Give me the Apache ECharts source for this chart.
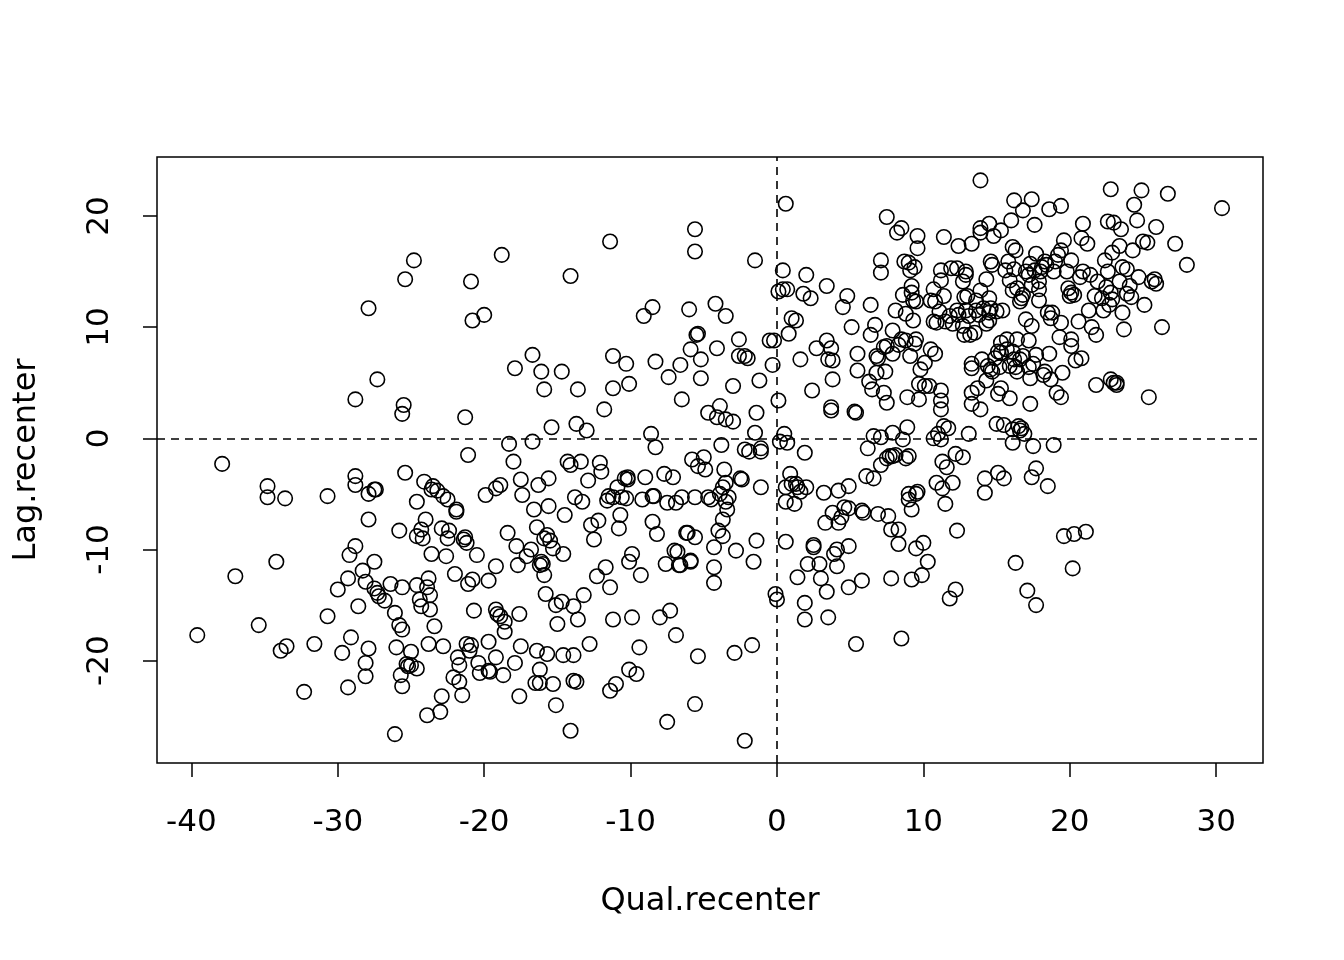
<!DOCTYPE html>
<html>
<head>
<meta charset="utf-8">
<script src="https://cdn.jsdelivr.net/npm/echarts@6/dist/echarts.min.js"></script>
<style>
html,body{margin:0;padding:0;background:#fff;}
#chart{width:1344px;height:960px;}
</style>
</head>
<body>
<div id="chart"></div>
<script>
// Tick labels
const xTicks = [-40, -30, -20, -10, 0, 10, 20, 30];
const yTicks = [-20, -10, 0, 10, 20];
const xTitle = 'Qual.recenter';
const yTitle = 'Lag.recenter';

// Points [Qual.recenter, Lag.recenter]
const pointsFarLeft = [
[-39.6,-17.7],[-37.9,-2.3],[-37.0,-12.4],[-35.4,-16.8],[-34.8,-4.3],[-34.8,-5.3],[-34.2,-11.1],[-33.9,-19.1],
[-33.6,-5.4],[-33.5,-18.7],[-32.3,-22.8],[-31.6,-18.5],[-30.7,-16.0],[-30.7,-5.2],[-30.0,-13.6]
];
const pointsM30 = [
[-29.7,-19.3],[-29.3,-12.6],[-29.2,-10.5],[-29.3,-22.4],[-29.1,-17.9],[-28.8,3.5],[-28.8,-9.7],[-28.8,-3.4],
[-28.8,-4.2],[-28.6,-15.1],[-28.3,-11.9],[-28.1,-20.2],[-28.1,-12.9],[-28.1,-21.4],[-27.9,11.7],[-27.9,-18.9],
[-27.9,-7.3],[-27.9,-5.0],[-27.5,-4.6],[-27.5,-11.1],[-27.3,5.3],[-27.4,-4.6],[-27.5,-13.5],[-27.3,-13.9],
[-27.2,-14.2],[-26.8,-14.6],[-26.4,-13.1],[-26.1,-15.7],[-26.1,-26.6],[-26.0,-18.8],[-25.8,-16.8],[-25.8,-8.3],
[-25.7,-21.3],[-25.6,-13.4],[-25.5,3.0],[-25.6,2.2],[-25.4,14.3],[-25.4,-3.1],[-25.6,-22.3],[-25.6,-17.2],
[-25.3,-20.3],[-25.2,-20.5],[-25.0,-19.2],[-25.0,-20.4],[-24.8,16.0],[-24.6,-20.7],[-24.6,-5.7],[-24.6,-13.2],
[-24.6,-8.8],[-24.4,-14.5],[-24.3,-15.1],[-24.3,-8.2],[-24.2,-9.0],[-24.0,-7.3],[-24.1,-3.9],[-23.9,-24.9],
[-23.9,-13.4],[-23.8,-12.6],[-23.7,-14.1],[-23.8,-18.5],[-23.7,-15.4],[-23.6,-10.4],[-23.6,-4.6],[-23.5,-4.3],
[-23.4,-16.9],[-23.2,-4.7],[-23.0,-24.6],[-22.9,-23.2],[-22.9,-8.1],[-22.8,-18.7],[-22.8,-5.2],[-22.6,-10.6],
[-22.5,-9.0],[-22.4,-8.3],[-22.5,-5.5],[-22.1,-21.5],[-22.0,-12.2],[-21.9,-6.4],[-21.9,-6.6],[-21.8,-19.7],
[-21.7,-21.9],[-21.7,-20.4],[-21.5,-23.1],[-21.4,-9.1],[-21.3,1.9],[-21.3,-8.9],[-21.2,-18.5],[-21.2,-9.4],
[-21.1,-13.1],[-21.1,-1.5],[-21.0,-19.1],[-20.9,14.1],[-20.9,-18.6],[-20.8,10.6],[-20.8,-12.7],[-20.7,-15.5],
[-20.5,-10.5],[-20.4,-20.2],[-20.3,-21.1],[-20.0,11.1],[-19.9,-5.1]
];
const pointsM20 = [
[-19.7,-12.8],[-19.7,-18.3],[-19.7,-20.9],[-19.6,-21.0],[-19.2,-4.5],[-19.2,-11.5],[-19.2,-15.4],[-19.2,-19.7],
[-19.1,-15.8],[-18.9,-16.0],[-18.9,-4.2],[-18.8,16.5],[-18.7,-21.3],[-18.6,-17.4],[-18.6,-16.5],[-18.4,-8.5],
[-18.3,-0.5],[-18.0,-2.1],[-17.9,6.3],[-17.9,-20.2],[-17.8,-9.7],[-17.7,-11.4],[-17.6,-23.2],[-17.6,-15.8],
[-17.5,-18.7],[-17.5,-3.7],[-17.4,-5.1],[-17.1,-10.6],[-16.8,-10.0],[-16.7,-0.3],[-16.7,7.5],[-16.6,-6.4],
[-16.5,-22.0],[-16.4,-8.0],[-16.4,-19.1],[-16.3,-4.2],[-16.2,-11.4],[-16.2,-22.0],[-16.2,-20.8],[-16.1,-11.1],
[-16.1,6.0],[-16.0,-11.3],[-15.9,4.4],[-15.9,-12.3],[-15.9,-9.0],[-15.8,-14.0],[-15.7,-8.7],[-15.7,-19.4],
[-15.6,-6.1],[-15.6,-3.6],[-15.5,-9.2],[-15.4,1.0],[-15.3,-9.9],[-15.3,-22.1],[-15.1,-24.0],[-15.1,-15.0],
[-15.0,-16.7],[-14.7,6.0],[-14.7,-14.7],[-14.6,-19.5],[-14.6,-10.4],[-14.5,-6.9],[-14.3,-2.1],[-14.1,-2.4],
[-14.1,14.6],[-14.1,-26.3],[-13.9,-15.1],[-13.9,-19.5],[-13.9,-21.8],[-13.8,-5.3],[-13.7,-21.9],[-13.7,1.3],
[-13.6,4.4],[-13.6,-16.3],[-13.4,-2.1],[-13.3,-5.7],[-13.2,-14.1],[-13.0,0.7],[-12.9,-3.8],[-12.8,-18.5],
[-12.7,-7.8],[-12.5,-9.1],[-12.3,-12.4],[-12.2,-7.4],[-12.1,-2.2],[-12.0,-3.0],[-11.8,2.6],[-11.7,-11.6],
[-11.6,-5.6],[-11.5,-5.2],[-11.4,-13.4],[-11.4,-22.7],[-11.4,17.7],[-11.2,7.4],[-11.2,-5.3],[-11.2,4.5],
[-11.2,-16.3],[-11.0,-22.1],[-10.9,-4.4],[-10.8,-8.1],[-10.7,-6.9],[-10.6,-5.3],[-10.4,-3.6],[-10.3,6.7],
[-10.3,-5.4],[-10.2,-3.5],[-10.2,-3.7],[-10.1,4.9],[-10.1,-20.8],[-10.1,-11.1],[-9.9,-16.1],[-9.9,-10.4]
];
const pointsM10 = [
[-9.6,-21.2],[-9.4,-18.8],[-9.3,-12.3],[-9.2,-5.5],[-9.1,11.0],[-9.0,-3.5],[-8.6,0.4],[-8.5,-5.2],
[-8.5,-7.5],[-8.5,11.8],[-8.4,-5.2],[-8.3,6.9],[-8.3,-0.8],[-8.2,-8.6],[-8.0,-16.1],[-7.7,-3.2],
[-7.6,-11.3],[-7.5,-5.8],[-7.5,-25.5],[-7.4,5.5],[-7.3,-15.5],[-7.1,-3.5],[-7.0,-10.1],[-6.9,-5.8],
[-6.9,-17.7],[-6.8,-10.2],[-6.7,-11.4],[-6.6,-11.4],[-6.6,6.6],[-6.5,3.5],[-6.5,-5.3],[-6.2,-8.5],
[-6.1,-8.5],[-6.0,11.6],[-5.9,-11.0],[-5.9,-11.1],[-5.9,8.0],[-5.8,-1.9],[-5.6,18.8],[-5.6,16.8],
[-5.6,-5.3],[-5.6,-8.9],[-5.6,-23.9],[-5.5,9.3],[-5.4,-2.5],[-5.4,9.4],[-5.4,-19.6],[-5.2,7.1],
[-5.2,5.4],[-5.0,-1.7],[-4.9,-2.8],[-4.7,2.3],[-4.7,-5.3],[-4.5,-5.5],[-4.3,-13.0],[-4.3,-11.6],
[-4.3,-9.8],[-4.2,12.1],[-4.1,1.9],[-4.1,8.1],[-4.0,-8.3],[-3.9,-5.0],[-3.9,2.9],[-3.8,-0.6],
[-3.7,-4.4],[-3.7,-8.8],[-3.7,-7.3],[-3.6,-2.8],[-3.5,11.0],[-3.5,-4.0],[-3.5,-5.7],[-3.5,1.7],
[-3.4,-6.4],[-3.3,-5.3],[-3.0,4.7],[-3.0,1.5],[-2.9,-19.3],[-2.8,-10.1],[-2.6,8.9],[-2.6,7.4],
[-2.5,-3.6],[-2.4,-3.7],[-2.2,7.4],[-2.2,-1.0],[-2.2,-27.2],[-2.0,7.2],[-1.9,-1.2],[-1.7,-18.6],
[-1.6,-11.1],[-1.5,16.0],[-1.5,0.5],[-1.4,2.3],[-1.4,-9.2],[-1.2,5.2],[-1.1,-0.9],[-1.1,-1.2],
[-1.1,-4.4],[-0.5,8.8],[-0.3,6.6],[-0.2,8.8]
];
const pointsP0 = [
[-0.1,-14.0],[0.0,-14.5],[0.1,3.4],[0.1,13.2],[0.2,-0.3],[0.4,15.1],[0.5,0.4],[0.4,13.4],
[0.6,21.1],[0.6,-5.7],[0.7,-0.4],[0.6,-9.3],[0.7,13.4],[0.6,-4.4],[0.8,9.4],[0.9,-3.2],
[1.0,-4.1],[1.0,10.8],[1.2,-5.9],[1.3,-4.1],[1.3,10.6],[1.4,-4.4],[1.4,-12.5],[1.6,-4.8],
[1.6,7.1],[1.8,13.0],[1.9,-1.3],[1.9,-16.3],[1.9,-14.8],[2.0,-4.4],[2.0,14.7],[2.1,-11.3],
[2.3,12.6],[2.4,4.3],[2.5,-9.8],[2.5,-9.6],[2.7,8.1],[2.9,-11.3],[3.0,-12.6],[3.2,-4.9],
[3.3,-7.6],[3.4,8.8],[3.4,13.7],[3.4,-13.8],[3.5,-16.1],[3.5,7.1],[3.7,2.8],[3.7,8.1],
[3.7,2.5],[3.8,7.0],[3.8,5.3],[3.8,-6.7],[3.9,-10.4],[4.1,-11.5],[4.1,-10.0],[4.2,-7.6],
[4.2,-4.7],[4.4,-7.1],[4.5,11.8],[4.6,-6.2],[4.8,12.8],[4.9,-13.4],[4.9,-6.3],[4.9,-4.3],
[4.9,-9.7],[5.1,10.0],[5.3,2.4],[5.4,-18.5],[5.4,2.3],[5.5,6.1],[5.5,7.6],[5.8,-6.5],
[5.8,-12.8],[5.9,-6.7],[6.1,-3.4],[6.2,-0.9],[6.3,5.1],[6.4,12.0],[6.4,9.3],[6.5,4.4],
[6.6,-3.6],[6.6,0.2],[6.7,10.2],[6.8,5.9],[6.8,7.4],[6.9,-6.8],[6.9,7.2],[7.1,0.1],
[7.1,-2.4],[7.1,16.0],[7.1,14.9],[7.3,4.1],[7.3,8.2],[7.4,6.0],[7.5,3.2],[7.5,19.9],
[7.5,-1.8],[7.5,8.3],[7.6,-7.0],[7.7,-1.6],[7.8,-12.6],[7.8,-8.2],[7.9,9.7],[7.9,7.6],
[7.9,0.5],[7.9,-1.6],[8.1,11.5],[8.1,-1.5],[8.2,18.5],[8.3,8.4],[8.3,-8.2],[8.3,-9.5],
[8.5,18.9],[8.5,8.9],[8.5,-18.0],[8.6,-0.1],[8.6,12.9],[8.7,15.9],[8.8,11.2],[8.8,-1.8],
[8.8,8.8],[8.9,1.0],[8.9,3.7],[9.0,15.8],[9.0,-1.6],[9.0,-5.0],[9.0,-5.5],[9.1,15.1],
[9.1,7.4],[9.2,13.7],[9.2,13.1],[9.2,-12.7],[9.2,-6.4],[9.3,12.4],[9.3,10.6],[9.4,8.5],
[9.4,15.4],[9.5,-9.9],[9.5,8.9],[9.5,-5.0],[9.5,12.3],[9.6,17.1],[9.6,-4.8],[9.6,18.2],
[9.7,3.5],[9.7,4.9],[9.8,6.2],[9.9,-12.3],[10.0,-9.4]
];
const pointsP10 = [
[10.1,4.7],[10.1,6.8],[10.3,-11.1],[10.4,4.7],[10.5,12.4],[10.5,8.0],[10.7,10.5],[10.7,0.0],
[10.7,13.4],[10.8,7.6],[10.8,12.3],[10.9,-4.0],[10.9,10.4],[11.0,0.4],[11.1,11.4],[11.2,4.3],
[11.2,15.1],[11.2,3.4],[11.2,2.6],[11.2,14.2],[11.2,-0.1],[11.3,-2.1],[11.3,-4.5],[11.4,18.1],
[11.4,12.8],[11.4,1.1],[11.5,-5.9],[11.5,10.5],[11.6,-2.6],[11.7,0.9],[11.8,11.0],[11.8,-14.4],
[11.9,15.3],[12.0,10.3],[12.0,-4.0],[12.2,-1.4],[12.2,-13.6],[12.3,-8.3],[12.3,11.5],[12.3,15.3],
[12.4,11.1],[12.4,17.3],[12.7,14.1],[12.7,-1.7],[12.7,10.1],[12.8,9.3],[12.8,12.7],[12.9,11.5],
[12.9,15.0],[12.9,14.7],[13.0,12.8],[13.1,11.0],[13.1,0.4],[13.2,9.3],[13.3,6.7],[13.3,17.5],
[13.3,4.1],[13.3,6.3],[13.3,3.1],[13.5,9.5],[13.6,11.5],[13.6,12.4],[13.7,4.5],[13.8,11.1],
[13.9,2.6],[13.9,13.3],[13.9,23.2],[13.9,18.9],[13.9,18.5],[14.0,7.1],[14.1,11.7],[14.2,-3.6],
[14.2,-4.9],[14.3,5.2],[14.3,10.3],[14.3,14.3],[14.4,6.5],[14.5,10.6],[14.5,11.3],[14.5,12.6],
[14.5,19.3],[14.6,15.9],[14.6,6.2],[14.6,11.7],[14.7,6.0],[14.7,15.6],[14.8,18.2],[14.9,7.2],
[15.0,1.3],[15.0,11.4],[15.1,-3.1],[15.1,4.0],[15.1,7.8],[15.2,6.4],[15.3,4.5],[15.3,7.7],
[15.3,8.6],[15.3,18.7],[15.4,11.5],[15.5,-3.6],[15.5,1.2],[15.6,15.1],[15.7,8.0],[15.7,8.9],
[15.8,15.9],[15.9,6.5],[15.9,14.2],[15.9,3.6],[16.0,19.6],[16.1,0.8],[16.1,-0.4],[16.1,7.8],
[16.1,17.2],[16.1,13.3],[16.2,15.2],[16.2,7.1],[16.2,21.4],[16.3,-11.2],[16.3,16.9],[16.3,6.4],
[16.4,8.9],[16.4,6.0],[16.4,13.5],[16.5,1.1],[16.6,0.7],[16.6,12.3],[16.6,7.1],[16.7,12.6],
[16.7,0.9],[16.8,20.5],[16.8,7.4],[16.8,12.9],[16.9,0.4],[17.0,10.7],[17.0,15.0],[17.1,-13.7],
[17.2,8.8],[17.2,14.7],[17.2,6.4],[17.3,3.1],[17.3,5.4],[17.3,15.7],[17.4,13.8],[17.4,10.1],
[17.4,-3.5],[17.4,21.5],[17.5,-0.7],[17.5,6.7],[17.6,19.2],[17.6,15.1],[17.7,-15.0],[17.7,16.6],
[17.7,-2.7],[17.7,7.5],[17.9,12.4],[17.9,14.1],[17.9,13.4],[18.0,15.0],[18.1,15.4],[18.2,5.7],
[18.3,15.9],[18.3,6.0],[18.4,15.6],[18.5,-4.3],[18.5,11.3],[18.6,7.6],[18.6,20.6],[18.7,5.3],
[18.7,10.8],[18.8,11.3],[18.9,-0.6],[18.9,15.0],[19.0,15.9],[19.1,4.1],[19.2,16.5],[19.3,9.1],
[19.4,20.9],[19.4,3.7],[19.4,10.4],[19.4,16.9],[19.5,5.9],[19.6,17.8],[19.6,-8.8],[19.8,15.0],
[19.9,13.5],[20.0,12.8],[20.1,13.1]
];
const pointsP20 = [
[20.1,16.0],[20.1,8.3],[20.1,8.9],[20.2,-11.7],[20.3,12.9],[20.3,-8.6],[20.4,7.0],[20.6,10.5],
[20.7,14.5],[20.8,7.2],[20.8,18.0],[20.9,15.0],[20.9,19.3],[21.1,-8.4],[21.2,17.5],[21.3,11.5],
[21.4,14.7],[21.5,10.0],[21.7,12.8],[21.8,9.3],[21.8,4.8],[21.9,14.1],[22.2,12.6],[22.3,11.5],
[22.4,16.0],[22.5,13.6],[22.6,19.5],[22.6,15.0],[22.7,12.0],[22.8,5.3],[22.8,13.1],[22.8,22.4],
[22.9,12.5],[22.9,16.7],[23.0,5.0],[23.0,19.4],[23.2,5.0],[23.2,4.8],[23.4,14.1],[23.4,17.3],
[23.5,18.8],[23.6,11.3],[23.6,15.4],[23.7,9.8],[23.9,13.0],[23.9,15.2],[24.1,13.7],[24.2,12.7],
[24.3,16.9],[24.4,21.0],[24.6,19.6],[24.7,14.5],[24.9,22.3],[25.0,17.7],[25.1,12.0],[25.3,17.6],
[25.4,3.7],[25.6,14.1],[25.8,14.3],[25.9,13.9],[25.9,19.0],[26.3,10.0],[26.7,22.0],[27.2,17.5],
[28.0,15.6],[30.4,20.7]
];

const allPoints = [].concat(pointsFarLeft, pointsM30, pointsM20, pointsM10, pointsP0, pointsP10, pointsP20);

const FONT = 'DejaVu Sans';
const chart = echarts.init(document.getElementById('chart'), null, {renderer: 'canvas'});
chart.setOption({
  animation: false,
  backgroundColor: '#ffffff',
  grid: {
    left: 157, top: 157, width: 1106, height: 606,
    show: true, borderColor: '#000', borderWidth: 1.5, backgroundColor: 'transparent'
  },
  xAxis: {
    type: 'value', min: -42.35, max: 33.2, position: 'bottom',
    name: xTitle, nameLocation: 'middle', nameGap: 123,
    nameTextStyle: {fontFamily: FONT, fontSize: 32, color: '#000'},
    axisLine: {show: false, onZero: false},
    splitLine: {show: false},
    axisTick: {show: true, length: 14, inside: false, customValues: xTicks, lineStyle: {color: '#000', width: 1.5}},
    axisLabel: {show: true, customValues: xTicks, margin: 44, fontFamily: FONT, fontSize: 31, color: '#000'}
  },
  yAxis: {
    type: 'value', min: -29.2, max: 25.3, position: 'left',
    name: yTitle, nameLocation: 'middle', nameGap: 114, nameRotate: 90,
    nameTextStyle: {fontFamily: FONT, fontSize: 32, color: '#000'},
    axisLine: {show: false, onZero: false},
    splitLine: {show: false},
    axisTick: {show: true, length: 14, inside: false, customValues: yTicks, lineStyle: {color: '#000', width: 1.5}},
    axisLabel: {show: true, customValues: yTicks, rotate: 90, margin: 42, fontFamily: FONT, fontSize: 31, color: '#000'}
  },
  series: [{
    type: 'scatter',
    data: allPoints,
    symbol: 'circle',
    symbolSize: 14.5,
    itemStyle: {color: 'rgba(0,0,0,0)', borderColor: '#000', borderWidth: 1.6, opacity: 1},
    emphasis: {disabled: true},
    markLine: {
      silent: true, symbol: 'none', animation: false,
      label: {show: false},
      lineStyle: {color: '#000', type: [8, 6], width: 1.6},
      data: [{xAxis: 0}, {yAxis: 0}]
    }
  }]
});
</script>
</body>
</html>
